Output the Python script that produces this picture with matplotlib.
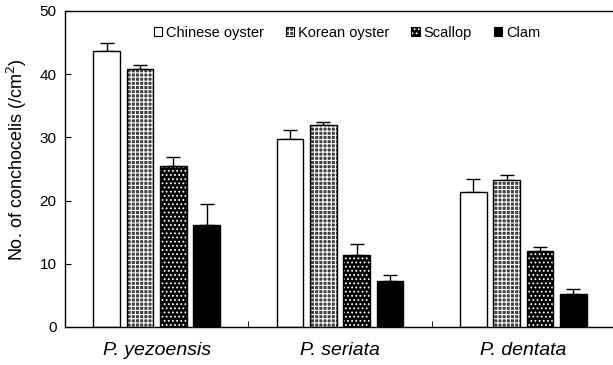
import numpy as np
import matplotlib
matplotlib.use("Agg")
import matplotlib.pyplot as plt
from matplotlib.patches import Patch
from matplotlib.legend_handler import HandlerTuple

plt.rcParams['font.family'] = ['Liberation Sans', 'DejaVu Sans']
plt.rcParams['hatch.linewidth'] = 0.8

# Conchocelis counts per substrate, with SD
species = ['P. yezoensis', 'P. seriata', 'P. dentata']
substrates = ['Chinese oyster', 'Korean oyster', 'Scallop', 'Clam']
means = {
    'Chinese oyster': [43.6, 29.7, 21.4],
    'Korean oyster': [40.9, 31.9, 23.3],
    'Scallop': [25.4, 11.4, 12.1],
    'Clam': [16.2, 7.2, 5.2],
}
sd = {
    'Chinese oyster': [1.4, 1.4, 2.0],
    'Korean oyster': [0.6, 0.6, 0.8],
    'Scallop': [1.5, 1.8, 0.5],
    'Clam': [3.3, 1.0, 0.8],
}

# fill colour, hatch, hatch colour
styles = {
    'Chinese oyster': ('white', None, 'white'),
    'Korean oyster': ('#404040', '++++', 'white'),
    'Scallop': ('black', '....', 'white'),
    'Clam': ('black', None, 'black'),
}

fig = plt.figure(figsize=(6.13, 3.65), dpi=100)
ax = fig.add_axes([65 / 613, 38 / 365, 550 / 613, 316 / 365])

x = np.arange(len(species))
pitch = 0.182
width = 0.145
handles = []
for i, name in enumerate(substrates):
    pos = x + (i - 1.5) * pitch
    fc, hatch, hc = styles[name]
    ax.bar(pos, means[name], width, color=fc, hatch=hatch, edgecolor=hc, linewidth=0, zorder=2)
    ax.bar(pos, means[name], width, facecolor='none', edgecolor='black', linewidth=1, zorder=3)
    ax.errorbar(pos, means[name], yerr=[np.zeros(len(pos)), sd[name]], fmt='none',
                ecolor='black', elinewidth=1, capsize=5, capthick=1, zorder=1)
    handles.append((Patch(facecolor=fc, hatch=hatch, edgecolor=hc, linewidth=0),
                    Patch(facecolor='none', edgecolor='black', linewidth=0.8)))

ax.set_xlim(-0.5, 2.5)
ax.set_ylim(0, 50)
ax.set_yticks(range(0, 51, 10))
ax.set_xticks(x)
ax.set_xticklabels(species, fontsize=14, style='italic')
ax.set_xticks([0.5, 1.5], minor=True)
ax.tick_params(axis='x', which='major', length=0, pad=11)
ax.tick_params(axis='x', which='minor', direction='in', length=4)
ax.tick_params(axis='y', direction='in', length=4, labelsize=11, pad=6, colors='black')
ax.set_ylabel('No. of conchocelis (/cm$^{2}$)', fontsize=13, labelpad=4)
ax.yaxis.set_label_coords(-0.065, 0.528)
ax.spines['right'].set_visible(False)
for s in ['left', 'bottom', 'top']:
    ax.spines[s].set_linewidth(1)

fig.legend(handles, substrates, handler_map={tuple: HandlerTuple(ndivide=1, pad=0)},
           loc='center', bbox_to_anchor=(0.566, 0.91), bbox_transform=fig.transFigure,
           ncol=4, frameon=False, fontsize=10.5, handlelength=0.6, handleheight=0.6,
           handletextpad=0.25, columnspacing=1.5)

fig.savefig('out.png', dpi=100)
